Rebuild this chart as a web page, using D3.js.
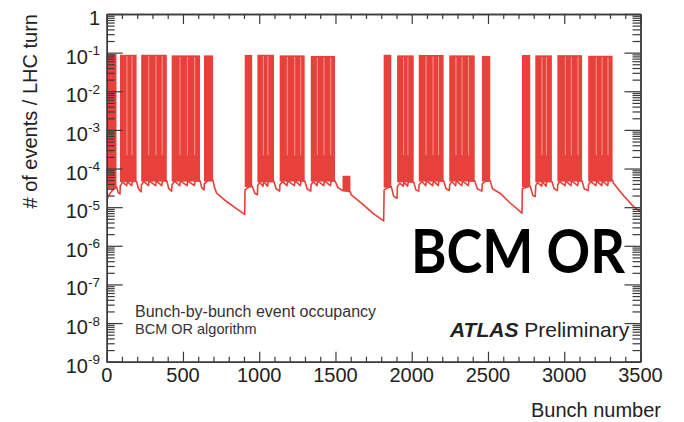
<!DOCTYPE html>
<html><head><meta charset="utf-8">
<script src="https://cdn.jsdelivr.net/npm/d3@7"></script>
<style>body{margin:0;background:#fff}svg{display:block}</style>
</head><body>
<script>
// ---- data (bunch numbers / events per LHC turn) ----
const blockStart = [0, 87, 226, 426, 638, 905, 988, 1134, 1338, 1546, 1816, 1904, 2046, 2246, 2460, 2723, 2810, 2955, 3157];
const blockEnd   = [64, 196, 394, 612, 697, 954, 1097, 1298, 1497, 1598, 1866, 2013, 2209, 2413, 2515, 2777, 2919, 3117, 3317];
const blockPeak  = [0.092, 0.088, 0.088, 0.085, 0.085, 0.087, 0.088, 0.085, 0.082, 6.5e-5, 0.088, 0.085, 0.087, 0.085, 0.082, 0.087, 0.085, 0.086, 0.083];
const blockFloor = [3.0e-5, 4.5e-5, 4.6e-5, 4.6e-5, 4.6e-5, 3.3e-5, 4.4e-5, 4.6e-5, 4.6e-5, 2.6e-5, 3.2e-5, 4.4e-5, 4.6e-5, 4.6e-5, 4.6e-5, 3.3e-5, 4.4e-5, 4.6e-5, 4.6e-5];
const gapBunch   = [133, 166, 276, 323, 364, 481, 529, 577, 1027, 1057, 1184, 1233, 1272, 1381, 1425, 1469,
                    1947, 1975, 2094, 2140, 2176, 2290, 2330, 2373, 2854, 2883, 3007, 3046, 3090, 3210, 3248, 3287];
const gapLevel = 2.2e-4;
const floorPoints = [
 [0,1.5e-5],[12,2.0e-5],[42,2.9e-5],[64,3.4e-5],[75,2.4e-5],[87,2.2e-5],
 [89,3.5e-5],[104,4.5e-5],[131,3.6e-5],[135,4.6e-5],[164,3.6e-5],[168,4.6e-5],[196,4.6e-5],
 [208,3.0e-5],[226,2.5e-5],
 [228,3.8e-5],[244,4.6e-5],[274,3.6e-5],[278,4.8e-5],[321,3.6e-5],[325,4.8e-5],[361,3.6e-5],[366,4.8e-5],[394,4.8e-5],
 [407,3.0e-5],[426,2.6e-5],
 [428,3.8e-5],[445,4.7e-5],[479,3.6e-5],[483,4.8e-5],[527,3.6e-5],[531,4.8e-5],[575,3.6e-5],[580,4.8e-5],[612,4.8e-5],
 [623,3.2e-5],[638,2.8e-5],
 [640,4.0e-5],[665,5.0e-5],[697,5.0e-5],
 [706,3.3e-5],[721,2.3e-5],[786,1.4e-5],[853,9.0e-6],[905,6.5e-6],
 [907,2.8e-5],[930,3.3e-5],[954,3.5e-5],[971,2.3e-5],[988,2.1e-5],
 [990,3.6e-5],[1002,4.4e-5],[1025,3.5e-5],[1029,4.6e-5],[1055,3.5e-5],[1059,4.6e-5],[1097,4.6e-5],
 [1111,3.0e-5],[1134,2.6e-5],
 [1136,3.8e-5],[1153,4.6e-5],[1182,3.6e-5],[1186,4.8e-5],[1231,3.6e-5],[1235,4.8e-5],[1270,3.6e-5],[1274,4.8e-5],[1298,4.8e-5],
 [1314,3.0e-5],[1338,2.6e-5],
 [1340,3.8e-5],[1355,4.6e-5],[1379,3.6e-5],[1383,4.8e-5],[1423,3.6e-5],[1427,4.8e-5],[1467,3.6e-5],[1471,4.8e-5],[1497,4.8e-5],
 [1516,3.2e-5],[1546,2.7e-5],[1598,2.5e-5],
 [1602,2.1e-5],[1678,1.2e-5],[1744,7.0e-6],[1816,4.4e-6],
 [1819,2.8e-5],[1843,3.2e-5],[1866,3.4e-5],[1882,1.9e-5],[1904,1.7e-5],
 [1906,3.4e-5],[1921,4.2e-5],[1945,3.5e-5],[1949,4.5e-5],[1973,3.5e-5],[1977,4.5e-5],[2013,4.5e-5],
 [2027,2.8e-5],[2046,2.6e-5],
 [2048,3.8e-5],[2067,4.6e-5],[2092,3.6e-5],[2096,4.8e-5],[2137,3.6e-5],[2142,4.8e-5],[2174,3.6e-5],[2178,4.8e-5],[2209,4.8e-5],
 [2225,3.0e-5],[2246,2.7e-5],
 [2249,3.8e-5],[2264,4.6e-5],[2288,3.6e-5],[2292,4.8e-5],[2328,3.6e-5],[2332,4.8e-5],[2371,3.6e-5],[2375,4.8e-5],[2413,4.8e-5],
 [2430,3.0e-5],[2460,2.6e-5],
 [2463,4.0e-5],[2487,4.8e-5],[2515,4.8e-5],
 [2529,3.0e-5],[2579,2.3e-5],[2644,1.3e-5],[2723,7.0e-6],
 [2725,3.0e-5],[2752,3.3e-5],[2777,3.5e-5],[2794,2.0e-5],[2810,1.9e-5],
 [2813,3.6e-5],[2825,4.3e-5],[2852,3.5e-5],[2856,4.6e-5],[2881,3.5e-5],[2885,4.6e-5],[2919,4.6e-5],
 [2934,3.0e-5],[2955,2.7e-5],
 [2957,3.8e-5],[2970,4.6e-5],[3005,3.6e-5],[3009,4.8e-5],[3044,3.6e-5],[3048,4.8e-5],[3088,3.6e-5],[3092,4.8e-5],[3117,4.8e-5],
 [3131,3.0e-5],[3157,2.7e-5],
 [3159,3.8e-5],[3173,4.6e-5],[3208,3.6e-5],[3212,4.8e-5],[3246,3.6e-5],[3250,4.8e-5],[3285,3.6e-5],[3289,4.8e-5],[3317,5.0e-5],
 [3322,4.2e-5],[3388,2.0e-5],[3453,1.05e-5],[3500,7.5e-6]
];
const xTicksMajor = [0, 500, 1000, 1500, 2000, 2500, 3000, 3500];
const yExponents = [0, -1, -2, -3, -4, -5, -6, -7, -8, -9];
const xTitle = "Bunch number";
const yTitle = "# of events / LHC turn";
const legendLines = ["Bunch-by-bunch event occupancy", "BCM OR algorithm"];
const bigLabel = "BCM OR";

// ---- layout ----
const W = 684, H = 422;
const L = 106.7, R = 640.5, T = 14, B = 361.7;
const red = "#e8403a", axisCol = "#3a3a3a", textCol = "#222";

const x = d3.scaleLinear().domain([0, 3500]).range([L, R]);
const y = d3.scaleLog().domain([1e-9, 1]).range([B, T]);

const svg = d3.select("body").append("svg").attr("width", W).attr("height", H)
  .style("font-family", "'Liberation Sans', Arial, Helvetica, sans-serif");

svg.append("defs").append("clipPath").attr("id", "clip")
  .append("rect").attr("x", L).attr("y", T).attr("width", R - L).attr("height", B - T);

const g = svg.append("g").attr("clip-path", "url(#clip)");

const blocks = blockStart.map((s, i) => ({ s, e: blockEnd[i], p: blockPeak[i], f: blockFloor[i] }));
g.selectAll("rect.block").data(blocks).join("rect").attr("class", "block")
  .attr("x", d => x(d.s)).attr("width", d => x(d.e) - x(d.s))
  .attr("y", d => y(d.p)).attr("height", d => y(d.f) - y(d.p))
  .attr("fill", red);

const gaps = gapBunch.map(b => {
  const i = blockStart.findIndex((s, k) => b >= s && b <= blockEnd[k]);
  return { b, p: blockPeak[i] };
});
g.selectAll("line.gap").data(gaps).join("line").attr("class", "gap")
  .attr("x1", d => x(d.b)).attr("x2", d => x(d.b))
  .attr("y1", d => y(d.p) + 1.5).attr("y2", y(gapLevel))
  .attr("stroke", "#f3a29d").attr("stroke-width", 0.9);

g.append("path").datum(floorPoints)
  .attr("d", d3.line().x(d => x(d[0])).y(d => y(d[1])))
  .attr("fill", "none").attr("stroke", red).attr("stroke-width", 1.6).attr("stroke-linejoin", "round");

// ---- axes ----
const majorsY = yExponents.map(e => Math.pow(10, e));
const minorsY = [];
yExponents.slice(1).forEach(e => { for (let m = 2; m <= 9; m++) minorsY.push(m * Math.pow(10, e)); });
const minorsX = d3.range(0, 3501, 100).filter(v => v % 500 !== 0);

function styleAxis(sel) {
  sel.selectAll("path").attr("stroke", axisCol).attr("stroke-width", 1.4);
  sel.selectAll("line").attr("stroke", axisCol).attr("stroke-width", 1.2);
  sel.selectAll("text").remove();
}
const axes = svg.append("g");
axes.append("g").attr("transform", `translate(${L},0)`)
  .call(d3.axisLeft(y).tickValues(majorsY).tickSize(-16).tickSizeOuter(0).tickFormat("")).call(styleAxis);
axes.append("g").attr("transform", `translate(${L},0)`)
  .call(d3.axisLeft(y).tickValues(minorsY).tickSize(-8).tickSizeOuter(0).tickFormat("")).call(styleAxis);
axes.append("g").attr("transform", `translate(${R},0)`)
  .call(d3.axisRight(y).tickValues(majorsY).tickSize(-16).tickSizeOuter(0).tickFormat("")).call(styleAxis);
axes.append("g").attr("transform", `translate(${R},0)`)
  .call(d3.axisRight(y).tickValues(minorsY).tickSize(-8).tickSizeOuter(0).tickFormat("")).call(styleAxis);
axes.append("g").attr("transform", `translate(0,${B})`)
  .call(d3.axisBottom(x).tickValues(xTicksMajor).tickSize(-10).tickSizeOuter(0).tickFormat("")).call(styleAxis);
axes.append("g").attr("transform", `translate(0,${B})`)
  .call(d3.axisBottom(x).tickValues(minorsX).tickSize(-5).tickSizeOuter(0).tickFormat("")).call(styleAxis);
axes.append("g").attr("transform", `translate(0,${T})`)
  .call(d3.axisTop(x).tickValues(xTicksMajor).tickSize(-10).tickSizeOuter(0).tickFormat("")).call(styleAxis);
axes.append("g").attr("transform", `translate(0,${T})`)
  .call(d3.axisTop(x).tickValues(minorsX).tickSize(-5).tickSizeOuter(0).tickFormat("")).call(styleAxis);

// y labels
const yl = svg.append("g").attr("fill", textCol);
yExponents.forEach(e => {
  const t = yl.append("text").attr("x", 100).attr("y", y(Math.pow(10, e)) + 11)
    .attr("text-anchor", "end").attr("font-size", 20);
  if (e === 0) { t.text("1"); }
  else {
    t.append("tspan").text("10");
    t.append("tspan").attr("font-size", 13.5).attr("dy", -8.5).text(String(e));
  }
});
// x labels
svg.append("g").selectAll("text").data(xTicksMajor).join("text")
  .attr("x", d => x(d)).attr("y", 381.5).attr("text-anchor", "middle")
  .attr("font-size", 20).attr("fill", textCol).text(d => d);

// titles
svg.append("text").attr("x", 661).attr("y", 417).attr("text-anchor", "end")
  .attr("font-size", 20).attr("fill", textCol).text(xTitle);
svg.append("text").attr("transform", `translate(36.5,${T}) rotate(-90)`).attr("text-anchor", "end")
  .attr("font-size", 20).attr("fill", textCol).text(yTitle);

// legend text
svg.append("text").attr("x", 135).attr("y", 317).attr("font-size", 16).attr("fill", "#333").text(legendLines[0]);
svg.append("text").attr("x", 135).attr("y", 334).attr("font-size", 14.5).attr("fill", "#333").text(legendLines[1]);

// ATLAS Preliminary
const at = svg.append("text").attr("x", 450).attr("y", 337).attr("font-size", 21).attr("fill", textCol);
at.append("tspan").attr("font-weight", "bold").attr("font-style", "italic").text("ATLAS");
at.append("tspan").text(" Preliminary");

// big label
svg.append("text").attr("x", 411).attr("y", 273)
  .attr("font-family", "Lato, 'Open Sans', sans-serif").attr("font-weight", 700)
  .attr("font-size", 62).attr("fill", "#000")
  .attr("textLength", 214).attr("lengthAdjust", "spacingAndGlyphs").text(bigLabel);
</script>
</body></html>
